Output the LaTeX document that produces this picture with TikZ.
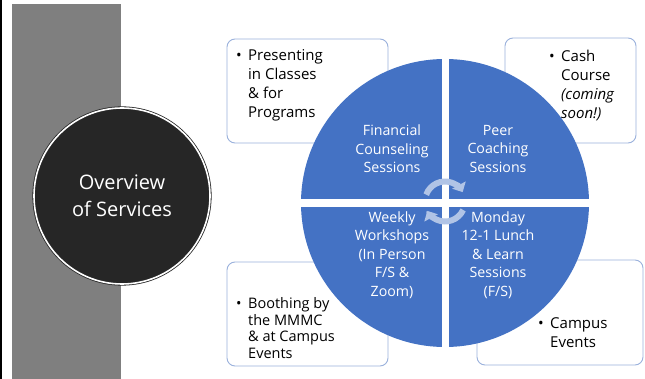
\documentclass[tikz,border=0pt]{standalone}
\usepackage{fontspec}
\setmainfont{Open Sans}
\usetikzlibrary{arrows.meta}
\definecolor{pblue}{HTML}{4472C4}
\definecolor{boxc}{HTML}{9AB1DC}
\definecolor{barc}{HTML}{7F7F7F}
\definecolor{darkc}{HTML}{262626}
\definecolor{arrc}{HTML}{B1C4E6}
\tikzset{
  infobox/.style={draw=boxc, line width=0.9pt, rounded corners=8pt, fill=white, inner sep=0pt},
  boxtext/.style={anchor=west, align=left, inner sep=0pt, font=\fontsize{15}{19}\selectfont, text=black},
  quadtext/.style={align=center, inner sep=0pt, font=\fontsize{14.2}{18.5}\selectfont, text=white},
  cyclearrow/.style={draw=arrc, line width=6pt, -{Triangle[width=15pt,length=8pt]}},
}
\newcommand{\bul}{\makebox[12pt][l]{\textbullet}}
\newcommand{\ind}{\hspace*{12pt}}
\begin{document}
\begin{tikzpicture}[x=1pt,y=-1pt]
\useasboundingbox (0,0) rectangle (645,379);
\fill[white] (0,0) rectangle (645,379);
% left border and grey bar
\fill[black] (0,0) rectangle (1.5,379);
\fill[barc] (12,4) rectangle (121,379);
% dark circle
\node[circle, minimum size=176pt, inner sep=0pt, fill=darkc, draw=darkc, double=white, double distance=1.6pt, line width=0.8pt,
      text=white, align=center, font=\fontsize{20}{27}\selectfont] (ov) at (122,196) {Overview\\of Services};
% boxes
\node[infobox, minimum width=161pt, minimum height=104pt] (btl) at (307.5,91) {};
\node[infobox, minimum width=131pt, minimum height=105pt] (btr) at (570.5,90.5) {};
\node[infobox, minimum width=161pt, minimum height=104pt] (bbl) at (307.5,314) {};
\node[infobox, minimum width=166pt, minimum height=105pt] (bbr) at (560,312.5) {};
% box texts
\node[boxtext] (ttl) at (236,85) {\bul Presenting\\\ind in Classes\\\ind \& for\\\ind Programs};
\node[boxtext] (ttr) at (549,85.5) {\bul Cash\\\ind Course\\\ind \textit{(coming}\\\ind \textit{soon!)}};
\node[boxtext, font=\fontsize{14.5}{16.5}\selectfont] (tbl) at (236,328) {\bul Boothing by\\\ind the MMMC\\\ind \& at Campus\\\ind Events};
\node[boxtext] (tbr) at (538,332.5) {\bul Campus\\\ind Events};
% blue circle quadrants
\begin{scope}
\clip (445,203) circle (144);
\fill[pblue] (441.5,199) rectangle (290,50);
\fill[pblue] (448.5,199) rectangle (600,50);
\fill[pblue] (441.5,207) rectangle (290,360);
\fill[pblue] (448.5,207) rectangle (600,360);
\end{scope}
% quadrant texts
\node[quadtext] (q1) at (392,149) {Financial\\Counseling\\Sessions};
\node[quadtext] (q2) at (498,149) {Peer\\Coaching\\Sessions};
\node[quadtext] (q3) at (392,255) {Weekly\\Workshops\\(In Person\\F/S \&\\Zoom)};
\node[quadtext] (q4) at (498,255) {Monday\\12-1 Lunch\\\& Learn\\Sessions\\(F/S)};
% cycle arrows
\coordinate (cc) at (445,201.5);
\draw[cyclearrow] (cc) ++(200:20) arc[start angle=200, end angle=332, radius=20];
\draw[cyclearrow] (cc) ++(25:20) arc[start angle=25, end angle=152, radius=20];
\end{tikzpicture}
\end{document}
